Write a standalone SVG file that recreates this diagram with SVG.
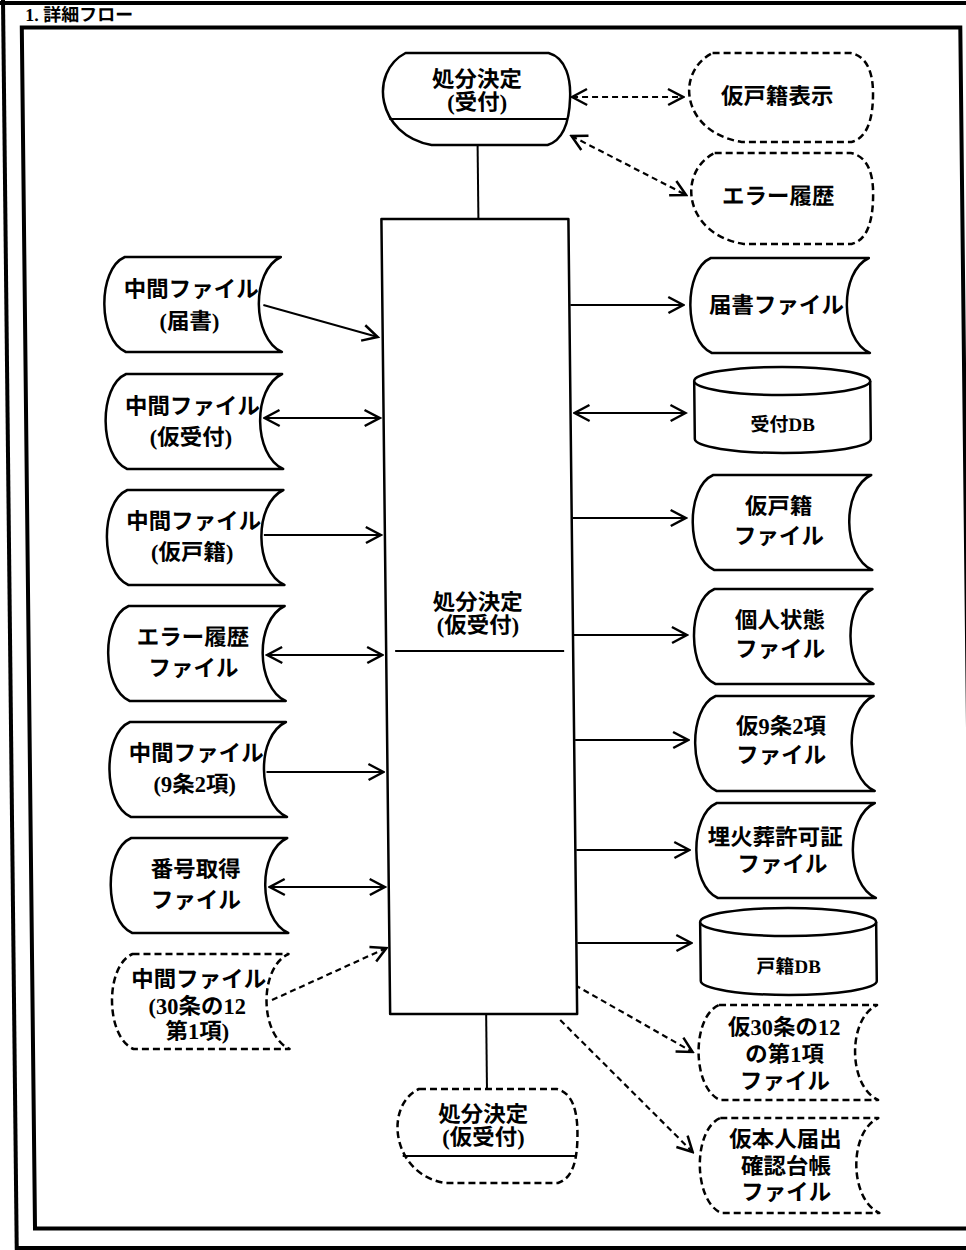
<svg xmlns="http://www.w3.org/2000/svg" width="966" height="1250" viewBox="0 0 966 1250">
<style>
.n{fill:#fff;stroke:#000;stroke-width:2.5;stroke-linejoin:round}
.d{stroke-dasharray:7 4}
.c{fill:none;stroke:#000;stroke-width:2}
.cd{fill:none;stroke:#000;stroke-width:2.2;stroke-dasharray:6 4}
.f{fill:none;stroke:#000;stroke-width:4}
.t{font-family:"Liberation Serif","Noto Sans CJK JP",serif;font-weight:bold;font-size:22.5px;text-anchor:middle;dominant-baseline:central;fill:#000}
.s{font-size:19px}
</style>
<defs>
<marker id="ah" viewBox="0 0 20 20" refX="18" refY="10" markerWidth="20" markerHeight="20" markerUnits="userSpaceOnUse" orient="auto-start-reverse">
<path d="M3,2 L18,10 L3,18" fill="none" stroke="#000" stroke-width="2.5"/>
</marker>
</defs>
<rect width="966" height="1250" fill="#fff"/>
<g transform="skewX(0.63)">
<g id="frame">
<line class="f" x1="3" y1="-10" x2="3" y2="1260"/>
<line class="f" x1="-20" y1="3" x2="990" y2="3"/>
<rect class="f" x="21.5" y="27.5" width="938.5" height="1201"/>
<line class="f" x1="3" y1="1248" x2="990" y2="1248"/>
<text x="25" y="15" class="t" style="text-anchor:start;font-size:18px">1. 詳細フロー</text>
</g>
<g id="connectors">
<line class="c" x1="476" y1="145" x2="476" y2="219"/>
<line class="c" x1="475" y1="1014" x2="475" y2="1088"/>
<line class="cd" x1="571" y1="97" x2="682" y2="97" marker-start="url(#ah)" marker-end="url(#ah)"/>
<line class="cd" x1="570" y1="136" x2="684" y2="195" marker-start="url(#ah)" marker-end="url(#ah)"/>
<line class="c" x1="260" y1="305" x2="374" y2="337" marker-end="url(#ah)"/>
<line class="c" x1="260" y1="418" x2="375" y2="418" marker-start="url(#ah)" marker-end="url(#ah)"/>
<line class="c" x1="258" y1="535" x2="375" y2="535" marker-end="url(#ah)"/>
<line class="c" x1="260" y1="655" x2="375" y2="655" marker-start="url(#ah)" marker-end="url(#ah)"/>
<line class="c" x1="258" y1="772" x2="375" y2="772" marker-end="url(#ah)"/>
<line class="c" x1="260" y1="887" x2="375" y2="887" marker-start="url(#ah)" marker-end="url(#ah)"/>
<line class="cd" x1="261" y1="1000" x2="376" y2="948" marker-end="url(#ah)"/>
<line class="c" x1="567" y1="305" x2="680" y2="305" marker-end="url(#ah)"/>
<line class="c" x1="570" y1="413" x2="681" y2="413" marker-start="url(#ah)" marker-end="url(#ah)"/>
<line class="c" x1="567" y1="518" x2="680" y2="518" marker-end="url(#ah)"/>
<line class="c" x1="567" y1="635" x2="680" y2="635" marker-end="url(#ah)"/>
<line class="c" x1="567" y1="740" x2="680" y2="740" marker-end="url(#ah)"/>
<line class="c" x1="567" y1="850" x2="680" y2="850" marker-end="url(#ah)"/>
<line class="c" x1="567" y1="943" x2="681" y2="943" marker-end="url(#ah)"/>
<line class="cd" x1="564" y1="985" x2="681" y2="1052" marker-end="url(#ah)"/>
<line class="cd" x1="549" y1="1020" x2="680" y2="1152" marker-end="url(#ah)"/>
</g>
<g id="n-top">
<path class="n" d="M405,53 L548,53 C566,58 570,80 569,98 C568,122 562,140 546,145 L430,145 C375,135 368,72 405,53 Z"/>
<line class="c" x1="388" y1="119" x2="566" y2="119" stroke-width="2.5"/>
<text class="t" x="476" y="80">処分決定</text>
<text class="t" x="476" y="103">(受付)</text>
</g>
<g id="n-main">
<rect class="n" x="379" y="219" width="187" height="795"/>
<line class="c" x1="388" y1="651" x2="557" y2="651" stroke-width="2.5"/>
<text class="t" x="471" y="603">処分決定</text>
<text class="t" x="471" y="626">(仮受付)</text>
</g>
<g id="n-bottom">
<path class="n d" d="M407,1089 L545,1089 C561,1093 565,1112 565,1132 C565,1160 560,1178 545,1183 L432,1183 C378,1174 372,1105 407,1089 Z"/>
<line class="c" x1="390" y1="1156" x2="563" y2="1156" stroke-width="2.5"/>
<text class="t" x="471" y="1115">処分決定</text>
<text class="t" x="471" y="1138">(仮受付)</text>
</g>
<g id="n-karikoseki-hyouji">
<path class="n d" d="M712,53 L850,53 C866,56 872,72 872,92 C872,118 866,138 850,142 L740,142 C680,132 674,72 712,53 Z"/>
<text class="t" x="776" y="97">仮戸籍表示</text>
</g>
<g id="n-error-rireki">
<path class="n d" d="M713,153 L849,153 C865,156 871,172 871,192 C871,220 865,240 849,244 L741,244 C681,234 675,172 713,153 Z"/>
<text class="t" x="776" y="197">エラー履歴</text>
</g>
<g id="l1">
<path class="n" d="M122,257 L278,257 C248,271 248,338 278,352 L122,352 C94,340 94,269 122,257 Z"/>
<text class="t" x="188" y="290">中間ファイル</text>
<text class="t" x="186" y="322">(届書)</text>
</g>
<g id="l2">
<path class="n" d="M122,374 L278,374 C248,388 248,455 278,469 L122,469 C94,457 94,386 122,374 Z"/>
<text class="t" x="188" y="407">中間ファイル</text>
<text class="t" x="186" y="438">(仮受付)</text>
</g>
<g id="l3">
<path class="n" d="M122,490 L278,490 C248,504 248,571 278,585 L122,585 C94,573 94,502 122,490 Z"/>
<text class="t" x="188" y="522">中間ファイル</text>
<text class="t" x="186" y="553">(仮戸籍)</text>
</g>
<g id="l4">
<path class="n" d="M122,606 L278,606 C248,620 248,687 278,701 L122,701 C94,689 94,618 122,606 Z"/>
<text class="t" x="186" y="638">エラー履歴</text>
<text class="t" x="186" y="669">ファイル</text>
</g>
<g id="l5">
<path class="n" d="M122,722 L278,722 C248,736 248,803 278,817 L122,817 C94,805 94,734 122,722 Z"/>
<text class="t" x="188" y="754">中間ファイル</text>
<text class="t" x="186" y="785">(9条2項)</text>
</g>
<g id="l6">
<path class="n" d="M122,838 L278,838 C248,852 248,919 278,933 L122,933 C94,921 94,850 122,838 Z"/>
<text class="t" x="186" y="870">番号取得</text>
<text class="t" x="186" y="901">ファイル</text>
</g>
<g id="l7">
<path class="n d" d="M122,954 L278,954 C248,968 248,1035 278,1049 L122,1049 C94,1037 94,966 122,954 Z"/>
<text class="t" x="188" y="980">中間ファイル</text>
<text class="t" x="186" y="1007">(30条の12</text>
<text class="t" x="186" y="1032">第1項)</text>
</g>
<g id="r1">
<path class="n" d="M708,258 L866,258 C836,272 836,339 866,353 L708,353 C680,341 680,270 708,258 Z"/>
<text class="t" x="773" y="306">届書ファイル</text>
</g>
<g id="r2">
<path class="n" d="M690,381 A88,14 0 0 1 866,381 L866,439 A88,14 0 0 1 690,439 Z"/>
<path class="n" fill="none" d="M690,381 A88,14 0 0 0 866,381"/>
<text class="t s" x="778" y="425">受付DB</text>
</g>
<g id="r3">
<path class="n" d="M708,475 L866,475 C836,489 836,556 866,570 L708,570 C680,558 680,487 708,475 Z"/>
<text class="t" x="773" y="507">仮戸籍</text>
<text class="t" x="773" y="537">ファイル</text>
</g>
<g id="r4">
<path class="n" d="M708,589 L866,589 C836,603 836,670 866,684 L708,684 C680,672 680,601 708,589 Z"/>
<text class="t" x="773" y="621">個人状態</text>
<text class="t" x="773" y="650">ファイル</text>
</g>
<g id="r5">
<path class="n" d="M708,696 L866,696 C836,710 836,777 866,791 L708,791 C680,779 680,708 708,696 Z"/>
<text class="t" x="773" y="727">仮9条2項</text>
<text class="t" x="773" y="756">ファイル</text>
</g>
<g id="r6">
<path class="n" d="M708,803 L866,803 C836,817 836,884 866,898 L708,898 C680,886 680,815 708,803 Z"/>
<text class="t" x="766" y="838">埋火葬許可証</text>
<text class="t" x="773" y="865">ファイル</text>
</g>
<g id="r7">
<path class="n" d="M690,922 A88,14 0 0 1 866,922 L866,981 A88,14 0 0 1 690,981 Z"/>
<path class="n" fill="none" d="M690,922 A88,14 0 0 0 866,922"/>
<text class="t s" x="778" y="967">戸籍DB</text>
</g>
<g id="r8">
<path class="n d" d="M708,1005 L866,1005 C836,1019 836,1086 866,1100 L708,1100 C680,1088 680,1017 708,1005 Z"/>
<text class="t" x="773" y="1028">仮30条の12</text>
<text class="t" x="773" y="1055">の第1項</text>
<text class="t" x="773" y="1082">ファイル</text>
</g>
<g id="r9">
<path class="n d" d="M708,1118 L866,1118 C836,1132 836,1199 866,1213 L708,1213 C680,1201 680,1130 708,1118 Z"/>
<text class="t" x="773" y="1140">仮本人届出</text>
<text class="t" x="773" y="1167">確認台帳</text>
<text class="t" x="773" y="1193">ファイル</text>
</g>
</g>
</svg>
